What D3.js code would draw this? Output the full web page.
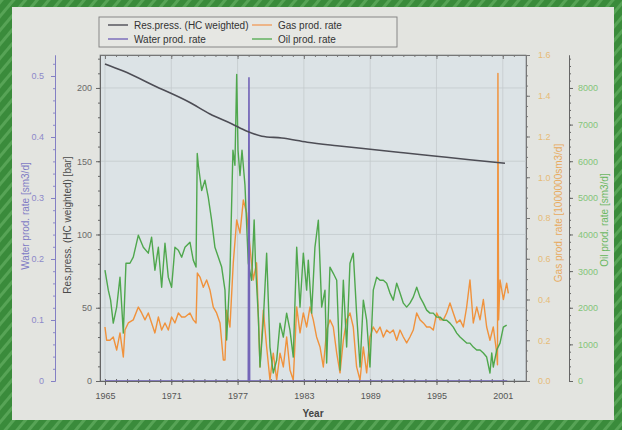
<!DOCTYPE html>
<html><head><meta charset="utf-8">
<script src="https://cdn.jsdelivr.net/npm/d3@7"></script>
<style>
html,body{margin:0;padding:0;background:#3b8a3c;overflow:hidden}
svg{display:block}
text{font-family:"Liberation Sans",Arial,sans-serif}
</style>
</head><body>
<svg id="c" width="622" height="430"></svg>
<script>
// ---------------- data ----------------
const yearTicks = [1965, 1971, 1977, 1983, 1989, 1995, 2001];
const pressTicks = [0, 50, 100, 150, 200];
const waterTicks = [0, 0.1, 0.2, 0.3, 0.4, 0.5];
const gasTicks = [0, 0.2, 0.4, 0.6, 0.8, 1.0, 1.2, 1.4, 1.6];
const oilTicks = [0, 1000, 2000, 3000, 4000, 5000, 6000, 7000, 8000];

const legendLabels = ["Res.press. (HC weighted)", "Gas prod. rate", "Water prod. rate", "Oil prod. rate"];

const pressYears  = [1965.0, 1966.6, 1969.7, 1972.6, 1974.5, 1976.5, 1977.8, 1979.2, 1981.0, 1983.3, 1986.0, 1989.0, 1992.0, 1995.0, 1998.0, 2001.2];
const pressValues = [216.4, 211.7, 200.7, 190.4, 182.2, 175.4, 170.6, 167.1, 165.8, 163.0, 160.6, 158.2, 155.8, 153.4, 151.0, 148.6];

const waterYears = [1965.0, 1977.97, 1978.03, 1978.09, 2001.4];
const waterRates = [0, 0, 0.498, 0, 0];

const oilYears = [1965.00,1965.30,1965.51,1965.75,1966.06,1966.36,1966.66,1966.90,1967.26,1967.56,1968.02,1968.47,1968.92,1969.22,1969.52,1969.83,1970.13,1970.43,1970.73,1971.03,1971.33,1971.64,1971.94,1972.24,1972.69,1972.99,1973.24,1973.35,1973.45,1973.75,1974.05,1974.35,1974.65,1974.95,1975.26,1975.56,1975.86,1976.01,1976.31,1976.58,1976.76,1976.92,1977.04,1977.22,1977.40,1977.67,1977.97,1978.27,1978.50,1978.62,1978.88,1979.03,1979.33,1979.63,1979.93,1980.23,1980.54,1980.84,1981.14,1981.44,1981.74,1982.04,1982.35,1982.65,1982.95,1983.25,1983.40,1983.70,1984.00,1984.31,1984.61,1984.91,1985.06,1985.36,1985.66,1985.97,1986.27,1986.57,1986.87,1987.17,1987.47,1987.77,1988.08,1988.38,1988.68,1988.98,1989.28,1989.59,1989.89,1990.19,1990.49,1990.79,1991.09,1991.40,1991.70,1992.00,1992.30,1992.60,1992.90,1993.21,1993.51,1993.81,1994.11,1994.41,1994.71,1995.02,1995.32,1995.62,1995.92,1996.22,1996.52,1996.83,1997.13,1997.43,1997.73,1998.03,1998.33,1998.64,1998.94,1999.24,1999.54,1999.84,2000.00,2000.14,2000.45,2000.75,2001.05,2001.35];
const oilRates = [3025,2480,2207,1580,2017,2834,1308,3215,3215,3380,3980,3650,3490,3925,3025,3650,2560,3760,2834,2560,3650,3570,3380,3650,3790,3300,3110,6210,5890,5200,5480,5010,4390,3650,3380,3110,2480,1117,2940,6300,5890,8370,6300,5610,6300,5340,3215,2750,4400,3215,1744,381,1660,3490,926,218,572,1580,1200,1853,1390,654,3650,2017,3490,2480,3300,1853,3650,4390,2017,2480,490,3110,2940,2750,300,2750,926,3215,3490,1853,381,2207,1660,381,2480,2834,2750,2750,2670,2400,2207,2670,2400,2125,2017,2125,2290,2560,2290,2125,1935,1853,1853,1744,1744,1660,1660,1580,1470,1308,1200,1117,1035,1035,926,845,845,763,654,218,763,381,845,1035,1470,1526];

const gasYears = [1965.00,1965.15,1965.45,1965.75,1966.06,1966.36,1966.66,1966.81,1967.11,1967.56,1968.02,1968.32,1968.62,1968.92,1969.22,1969.52,1969.83,1970.13,1970.43,1970.73,1971.03,1971.33,1971.64,1971.94,1972.24,1972.69,1972.99,1973.24,1973.36,1973.60,1973.90,1974.20,1974.50,1974.80,1975.10,1975.41,1975.71,1975.86,1976.01,1976.31,1976.61,1976.92,1977.22,1977.52,1977.82,1978.12,1978.42,1978.72,1979.03,1979.33,1979.63,1979.93,1980.23,1980.54,1980.84,1981.14,1981.44,1981.74,1982.04,1982.35,1982.65,1982.95,1983.25,1983.55,1983.85,1984.15,1984.46,1984.76,1985.06,1985.36,1985.66,1985.97,1986.27,1986.57,1986.87,1987.17,1987.47,1987.77,1988.08,1988.38,1988.68,1988.98,1989.28,1989.59,1989.89,1990.19,1990.49,1990.79,1991.09,1991.40,1991.70,1992.00,1992.30,1992.60,1992.90,1993.21,1993.51,1993.81,1994.11,1994.41,1994.71,1995.02,1995.32,1995.62,1995.92,1996.22,1996.52,1996.83,1997.13,1997.43,1997.73,1998.03,1998.33,1998.64,1998.94,1999.24,1999.54,1999.84,2000.14,2000.45,2000.52,2000.56,2000.62,2000.75,2001.05,2001.35,2001.50];
const gasRates = [0.265,0.20,0.20,0.216,0.152,0.236,0.118,0.25,0.285,0.30,0.363,0.334,0.30,0.334,0.285,0.236,0.314,0.25,0.285,0.25,0.314,0.285,0.334,0.314,0.314,0.334,0.30,0.285,0.53,0.51,0.46,0.496,0.447,0.363,0.334,0.285,0.103,0.103,0.348,0.265,0.58,0.79,0.726,0.888,0.825,0.658,0.496,0.58,0.069,0.348,0.167,0.005,0.137,0.005,0.137,0.069,0.216,0.054,0.005,0.363,0.236,0.334,0.265,0.363,0.30,0.216,0.167,0.069,0.25,0.30,0.265,0.137,0.04,0.20,0.30,0.334,0.265,0.069,0.005,0.167,0.04,0.216,0.265,0.236,0.265,0.216,0.25,0.236,0.25,0.20,0.25,0.216,0.187,0.216,0.25,0.334,0.30,0.285,0.265,0.265,0.25,0.334,0.30,0.30,0.334,0.383,0.334,0.285,0.30,0.265,0.363,0.496,0.285,0.363,0.30,0.40,0.265,0.20,0.265,0.137,0.08,1.51,0.30,0.496,0.40,0.48,0.43];

// ---------------- drawing ----------------
const svg = d3.select("#c");
const P = {left: 100, right: 526, top: 55, bottom: 381};

// background photo frame
const defs = svg.append("defs");
const pat = defs.append("pattern").attr("id", "stripes").attr("width", 9).attr("height", 9)
  .attr("patternUnits", "userSpaceOnUse").attr("patternTransform", "rotate(40)");
pat.append("rect").attr("width", 9).attr("height", 9).attr("fill", "#3a8b3b");
pat.append("rect").attr("width", 3).attr("height", 9).attr("fill", "#57a456");
defs.append("clipPath").attr("id", "plotclip").append("rect")
  .attr("x", P.left).attr("y", P.top).attr("width", P.right - P.left).attr("height", P.bottom - P.top);

svg.append("rect").attr("width", 622).attr("height", 430).attr("fill", "url(#stripes)");
svg.append("rect").attr("x", 12).attr("y", 7).attr("width", 602).attr("height", 413).attr("fill", "#e3e4e0");
svg.append("rect").attr("x", P.left).attr("y", P.top).attr("width", P.right - P.left).attr("height", P.bottom - P.top)
  .attr("fill", "#dce3e6").attr("stroke", "#8a8f93").attr("stroke-width", 0.8);

// scales
const x = d3.scaleLinear().domain([1964.55, 2003.1]).range([P.left, P.right]);
const yPress = d3.scaleLinear().domain([0, 222.5]).range([P.bottom, P.top]);
const yWater = d3.scaleLinear().domain([0, 0.5344]).range([P.bottom, P.top]);
const yGas = d3.scaleLinear().domain([0, 1.6]).range([P.bottom, P.top]);
const yOil = d3.scaleLinear().domain([0, 8900]).range([P.bottom, P.top]);

// grid
const grid = svg.append("g").attr("stroke", "#c4cacd").attr("stroke-width", 0.8);
grid.selectAll("line.v").data(yearTicks).join("line")
  .attr("x1", d => x(d)).attr("x2", d => x(d)).attr("y1", P.top).attr("y2", P.bottom);
grid.selectAll("line.h").data(pressTicks.filter(d => d > 0)).join("line")
  .attr("x1", P.left).attr("x2", P.right).attr("y1", d => yPress(d)).attr("y2", d => yPress(d));

function styleAxis(g, color, lineColor) {
  g.selectAll("path").attr("stroke", lineColor || color);
  g.selectAll("line").attr("stroke", lineColor || color);
  g.selectAll("text").attr("fill", color).style("font-size", "9px").style("font-family", '"Liberation Sans", Arial, sans-serif');
}

// bottom axis
const minorYears = d3.range(1965, 2003);
const gb1 = svg.append("g").attr("transform", `translate(0,${P.bottom})`)
  .call(d3.axisBottom(x).tickValues(minorYears).tickFormat("").tickSize(2).tickSizeOuter(0));
styleAxis(gb1, "#555", "#666");
const gb2 = svg.append("g").attr("transform", `translate(0,${P.bottom})`)
  .call(d3.axisTop(x).tickValues(minorYears).tickFormat("").tickSize(2).tickSizeOuter(0));
styleAxis(gb2, "#555", "#666");
const gb = svg.append("g").attr("transform", `translate(0,${P.bottom})`)
  .call(d3.axisBottom(x).tickValues(yearTicks).tickFormat(d3.format("d")).tickSize(4).tickPadding(8).tickSizeOuter(0));
styleAxis(gb, "#555", "#666");
// top border ticks
const gt = svg.append("g").attr("transform", `translate(0,${P.top})`)
  .call(d3.axisBottom(x).tickValues(minorYears).tickFormat("").tickSize(2).tickSizeOuter(0));
styleAxis(gt, "#666", "#777");
const gt2 = svg.append("g").attr("transform", `translate(0,${P.top})`)
  .call(d3.axisBottom(x).tickValues(yearTicks).tickFormat("").tickSize(4).tickSizeOuter(0));
styleAxis(gt2, "#666", "#777");

// left press axis
const gpm = svg.append("g").attr("transform", `translate(${P.left},0)`)
  .call(d3.axisLeft(yPress).tickValues(d3.range(0, 221, 10)).tickFormat("").tickSize(2).tickSizeOuter(0));
styleAxis(gpm, "#666");
const gp = svg.append("g").attr("transform", `translate(${P.left},0)`)
  .call(d3.axisLeft(yPress).tickValues(pressTicks).tickFormat(d3.format("d")).tickSize(4).tickPadding(4).tickSizeOuter(0));
styleAxis(gp, "#6a6a6a", "#666");

// water axis
const WX = 55;
const gwm = svg.append("g").attr("transform", `translate(${WX},0)`)
  .call(d3.axisLeft(yWater).tickValues(d3.range(0, 0.531, 0.02)).tickFormat("").tickSize(2).tickSizeOuter(0));
styleAxis(gwm, "#8d89c9");
const gw = svg.append("g").attr("transform", `translate(${WX},0)`)
  .call(d3.axisLeft(yWater).tickValues(waterTicks).tickFormat(d => d === 0 ? "0" : d.toFixed(1)).tickSize(4).tickPadding(7).tickSizeOuter(0));
styleAxis(gw, "#8d89c9", "#8480c4");

// gas axis
const ggm = svg.append("g").attr("transform", `translate(${P.right},0)`)
  .call(d3.axisRight(yGas).tickValues(d3.range(0, 1.601, 0.05)).tickFormat("").tickSize(2).tickSizeOuter(0));
styleAxis(ggm, "#777");
const gg = svg.append("g").attr("transform", `translate(${P.right},0)`)
  .call(d3.axisRight(yGas).tickValues(gasTicks).tickFormat(d => d.toFixed(1)).tickSize(4).tickPadding(8).tickSizeOuter(0));
styleAxis(gg, "#e6bb78", "#777");

// oil axis
const OX = 569;
const gom = svg.append("g").attr("transform", `translate(${OX},0)`)
  .call(d3.axisRight(yOil).tickValues(d3.range(0, 8801, 200)).tickFormat("").tickSize(2).tickSizeOuter(0));
styleAxis(gom, "#666");
const go = svg.append("g").attr("transform", `translate(${OX},0)`)
  .call(d3.axisRight(yOil).tickValues(oilTicks).tickFormat(d3.format("d")).tickSize(4).tickPadding(5).tickSizeOuter(0));
styleAxis(go, "#84c57a", "#666");
go.select("path.domain").attr("stroke-dasharray", "1.5,2");

// series
const plot = svg.append("g").attr("clip-path", "url(#plotclip)");
const lineOf = (ys) => d3.line().x(d => x(d[0])).y(d => ys(d[1]));
plot.append("path").datum(d3.zip(gasYears, gasRates)).attr("fill", "none")
  .attr("stroke", "#f0923c").attr("stroke-width", 1.4).attr("stroke-linejoin", "round").attr("d", lineOf(yGas));
plot.append("path").datum(d3.zip(oilYears, oilRates)).attr("fill", "none")
  .attr("stroke", "#4fa74d").attr("stroke-width", 1.4).attr("stroke-linejoin", "round").attr("d", lineOf(yOil));
plot.append("path").datum(d3.zip(waterYears, waterRates)).attr("fill", "none")
  .attr("stroke", "#7466b8").attr("stroke-width", 1.6).attr("d", lineOf(yWater));
plot.append("path").datum(d3.zip(pressYears, pressValues)).attr("fill", "none")
  .attr("stroke", "#4d4d55").attr("stroke-width", 1.6).attr("d", lineOf(yPress).curve(d3.curveMonotoneX));

// axis titles
const title = (tx, ty, txt, color) => svg.append("text")
  .attr("transform", `translate(${tx},${ty}) rotate(-90)`).attr("text-anchor", "middle")
  .attr("dy", "0.35em").style("font-size", "10px").attr("fill", color).text(txt);
title(25, 216, "Water prod. rate [sm3/d]", "#7f7bc4");
title(67, 225, "Res.press. (HC weighted) [bar]", "#4a4a4a");
title(558, 213, "Gas prod. rate [1000000sm3/d]", "#e8aa5e");
title(604, 220, "Oil prod. rate [sm3/d]", "#6bb862");
svg.append("text").attr("x", 313).attr("y", 417).attr("text-anchor", "middle")
  .style("font-size", "10px").style("font-weight", "bold").attr("fill", "#444").text("Year");

// legend
const lg = svg.append("g");
lg.append("rect").attr("x", 99).attr("y", 17).attr("width", 298).attr("height", 30)
  .attr("fill", "#e6e7e3").attr("stroke", "#7d7d7d").attr("stroke-width", 0.9);
const legendColors = ["#4d4d55", "#f0a060", "#7466b8", "#5aae56"];
const legendPos = [[108, 25], [252, 25], [108, 39], [252, 39]];
legendLabels.forEach((lab, i) => {
  const [lx, ly] = legendPos[i];
  lg.append("line").attr("x1", lx).attr("x2", lx + 20).attr("y1", ly).attr("y2", ly)
    .attr("stroke", legendColors[i]).attr("stroke-width", 1.4);
  lg.append("text").attr("x", lx + 26).attr("y", ly).attr("dy", "0.35em")
    .style("font-size", "10px").attr("fill", "#333").text(lab);
});
</script>
</body></html>
